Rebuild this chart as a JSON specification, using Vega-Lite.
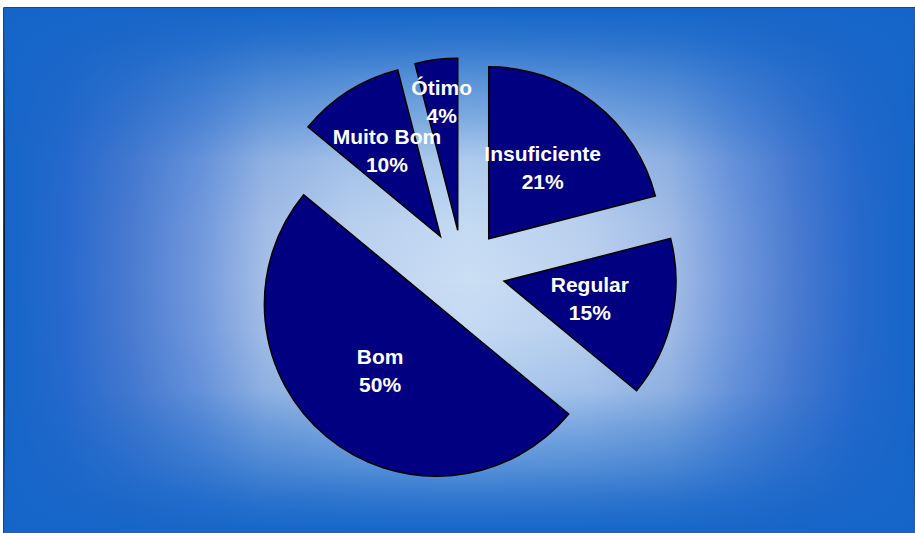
{
  "$schema": "https://vega.github.io/schema/vega-lite/v6.json",
  "width": 911,
  "height": 525,
  "autosize": {"type": "none"},
  "padding": {"left": 4, "top": 8, "right": 0, "bottom": 0},
  "background": "white",
  "config": {
    "view": {
      "stroke": "black",
      "strokeWidth": 1.5,
      "fill": {
        "gradient": "linear",
        "x1": 0, "y1": 0.5, "x2": 1, "y2": 0.5,
        "stops": [
          {"offset": 0.0, "color": "#1565C8"},
          {"offset": 0.067, "color": "#2869CD"},
          {"offset": 0.138, "color": "#4A7BD0"},
          {"offset": 0.215, "color": "#7399DD"},
          {"offset": 0.286, "color": "#A5BEE6"},
          {"offset": 0.38, "color": "#BDD2EF"},
          {"offset": 0.51, "color": "#CADEF4"},
          {"offset": 0.64, "color": "#BDD2EF"},
          {"offset": 0.73, "color": "#A5BEE6"},
          {"offset": 0.80, "color": "#7399DD"},
          {"offset": 0.87, "color": "#4A7BD0"},
          {"offset": 0.935, "color": "#2869CD"},
          {"offset": 1.0, "color": "#1565C8"}
        ]
      }
    }
  },
  "datasets": {
    "avaliacao": [
      {"categoria": "Insuficiente", "valor": 21},
      {"categoria": "Regular", "valor": 15},
      {"categoria": "Bom", "valor": 50},
      {"categoria": "Muito Bom", "valor": 10},
      {"categoria": "Ótimo", "valor": 4}
    ]
  },
  "layer": [
    {
      "data": {"values": [{}]},
      "mark": {
        "type": "rect",
        "fill": {
          "gradient": "linear",
          "x1": 0.5, "y1": 0, "x2": 0.5, "y2": 1,
          "stops": [
            {"offset": 0.0, "color": "rgba(21,101,200,1)"},
            {"offset": 0.067, "color": "rgba(21,101,200,0.85)"},
            {"offset": 0.139, "color": "rgba(21,101,200,0.62)"},
            {"offset": 0.217, "color": "rgba(21,101,200,0.4)"},
            {"offset": 0.289, "color": "rgba(21,101,200,0.16)"},
            {"offset": 0.413, "color": "rgba(21,101,200,0.03)"},
            {"offset": 0.516, "color": "rgba(21,101,200,0)"},
            {"offset": 0.613, "color": "rgba(21,101,200,0.03)"},
            {"offset": 0.729, "color": "rgba(21,101,200,0.16)"},
            {"offset": 0.797, "color": "rgba(21,101,200,0.4)"},
            {"offset": 0.869, "color": "rgba(21,101,200,0.62)"},
            {"offset": 0.937, "color": "rgba(21,101,200,0.85)"},
            {"offset": 1.0, "color": "rgba(21,101,200,1)"}
          ]
        }
      },
      "encoding": {}
    },
    {
      "data": {"name": "avaliacao"},
      "transform": [
        {"window": [{"op": "sum", "field": "valor", "as": "acum"}]},
        {"calculate": "datum.acum - datum.valor", "as": "inicio"},
        {"calculate": "datum.acum - datum.valor / 2", "as": "meio"},
        {"calculate": "sin(2 * PI * datum.meio / 100)", "as": "dx"},
        {"calculate": "-cos(2 * PI * datum.meio / 100)", "as": "dy"},
        {"calculate": "[datum.categoria, datum.valor + '%']", "as": "rotulo"}
      ],
      "layer": [
        {
          "mark": {"type": "arc", "radius": 172, "fill": "#000080", "stroke": "black", "strokeWidth": 1.5},
          "encoding": {
            "x": {"field": "dx", "type": "quantitative", "scale": {"domain": [-1, 1], "range": [417, 501], "zero": false, "nice": false}, "axis": null},
            "y": {"field": "dy", "type": "quantitative", "scale": {"domain": [-1, 1], "range": [222, 306], "zero": false, "nice": false}, "axis": null},
            "theta": {"field": "inicio", "type": "quantitative", "scale": {"domain": [0, 100], "range": [0, 6.283185307179586]}},
            "theta2": {"field": "acum"}
          }
        },
        {
          "mark": {"type": "text", "dy": -14, "font": "Liberation Sans", "fontWeight": "bold", "fontSize": 21, "fill": "white", "align": "center", "baseline": "middle", "lineHeight": 28},
          "encoding": {
            "x": {"field": "dx", "type": "quantitative", "axis": null},
            "y": {"field": "dy", "type": "quantitative", "axis": null},
            "theta": {"field": "meio", "type": "quantitative"},
            "radius": {"field": "valor", "type": "quantitative", "scale": {"type": "linear", "domain": [4, 10, 15], "range": [128, 100, 88], "clamp": true}},
            "text": {"field": "rotulo", "type": "nominal"}
          }
        }
      ]
    }
  ]
}
